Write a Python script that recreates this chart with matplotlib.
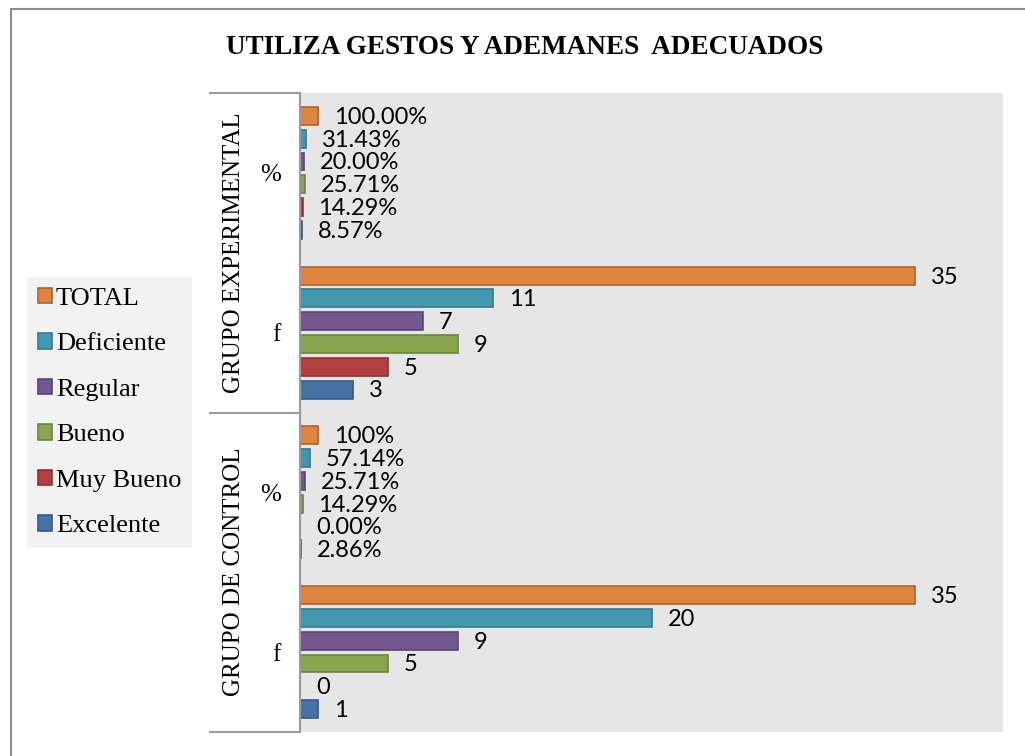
import matplotlib.pyplot as plt
import matplotlib.transforms as mtransforms
from matplotlib.lines import Line2D
import numpy as np

# categories from bottom to top
categories = ['f', '%', 'f', '%']
groups = ['GRUPO DE CONTROL', 'GRUPO EXPERIMENTAL']

series = ['Excelente', 'Muy Bueno', 'Bueno', 'Regular', 'Deficiente', 'TOTAL']
excelente = [1, 0.0286, 3, 0.0857]
muy_bueno = [0, 0.0, 5, 0.1429]
bueno = [5, 0.1429, 9, 0.2571]
regular = [9, 0.2571, 7, 0.20]
deficiente = [20, 0.5714, 11, 0.3143]
total = [35, 1.0, 35, 1.0]

excelente_lbl = ['1', '2.86%', '3', '8.57%']
muy_bueno_lbl = ['0', '0.00%', '5', '14.29%']
bueno_lbl = ['5', '14.29%', '9', '25.71%']
regular_lbl = ['9', '25.71%', '7', '20.00%']
deficiente_lbl = ['20', '57.14%', '11', '31.43%']
total_lbl = ['35', '100%', '35', '100.00%']

values = [excelente, muy_bueno, bueno, regular, deficiente, total]
labels = [excelente_lbl, muy_bueno_lbl, bueno_lbl, regular_lbl, deficiente_lbl, total_lbl]
faces = ['#4572a7', '#b3403e', '#89a54e', '#71588f', '#4198af', '#dd843f']
edges = ['#365a85', '#8e3331', '#6e853d', '#5a4672', '#357b8e', '#b0622b']

serif = ['Liberation Serif', 'DejaVu Serif']
sans = ['Lato', 'DejaVu Sans']

fig = plt.figure(figsize=(10.25, 7.56), dpi=100)
ax = fig.add_axes([300 / 1025, 1 - 732 / 756, 703 / 1025, 639 / 756])
ax.set_facecolor('#e6e6e6')

# outer border (only left and top edges are visible)
bx, by = 11 / 1025, 1 - 9 / 756
fig.add_artist(Line2D([bx, bx, 1.0], [0.0, by, by], transform=fig.transFigure,
                      color='#8c8c8c', linewidth=1.5))

y = np.arange(len(categories))
slot = 0.1425
h = 0.1125
for i in range(len(series)):
    pos = y + (i - 2.5) * slot
    ax.barh(pos, values[i], height=h, color=faces[i], edgecolor=edges[i],
            linewidth=1.2, label=series[i])
    for p, v, t in zip(pos, values[i], labels[i]):
        ax.annotate(t, (v, p), xytext=(11.5, -1), textcoords='offset points',
                    va='center', ha='left', fontsize=17, family=sans)

ax.set_xlim(0, 40)
ax.set_ylim(-0.5, 3.5)
ax.set_xticks([])
ax.set_yticks(y)
ax.set_yticklabels(categories, fontsize=18, family=serif)
ax.tick_params(axis='y', length=0, pad=14)
for s in ['top', 'right', 'bottom']:
    ax.spines[s].set_visible(False)
ax.spines['left'].set_color('#9a9a9a')
ax.spines['left'].set_linewidth(1.5)

# category box separators and group labels
trans = mtransforms.blended_transform_factory(ax.transAxes, ax.transData)
left_x = -90 / 703
for yy in [-0.5, 1.5, 3.5]:
    ax.plot([left_x, 0], [yy, yy], color='#9a9a9a', linewidth=1.5,
            transform=trans, clip_on=False)
for k, g in enumerate(groups):
    ax.text(-66 / 703, 2 * k + 0.5, g, rotation=90, va='center', ha='center',
            fontsize=18, family=serif, transform=trans)

handles, names = ax.get_legend_handles_labels()
leg = fig.legend(handles[::-1], names[::-1], loc='upper left',
                 bbox_to_anchor=(27 / 1025, 1 - 277 / 756),
                 prop={'family': serif, 'size': 19}, frameon=True,
                 facecolor='#f2f2f2', edgecolor='none', fancybox=False,
                 handlelength=0.55, handleheight=0.55, handletextpad=0.15,
                 labelspacing=0.88, borderpad=0.4, borderaxespad=0)
leg.get_frame().set_alpha(1)

fig.text(525 / 1025, 1 - 47 / 756, 'UTILIZA GESTOS Y ADEMANES  ADECUADOS',
         ha='center', va='center', fontsize=19.5, fontweight='bold', family=serif)

fig.savefig('out.png', dpi=100)
